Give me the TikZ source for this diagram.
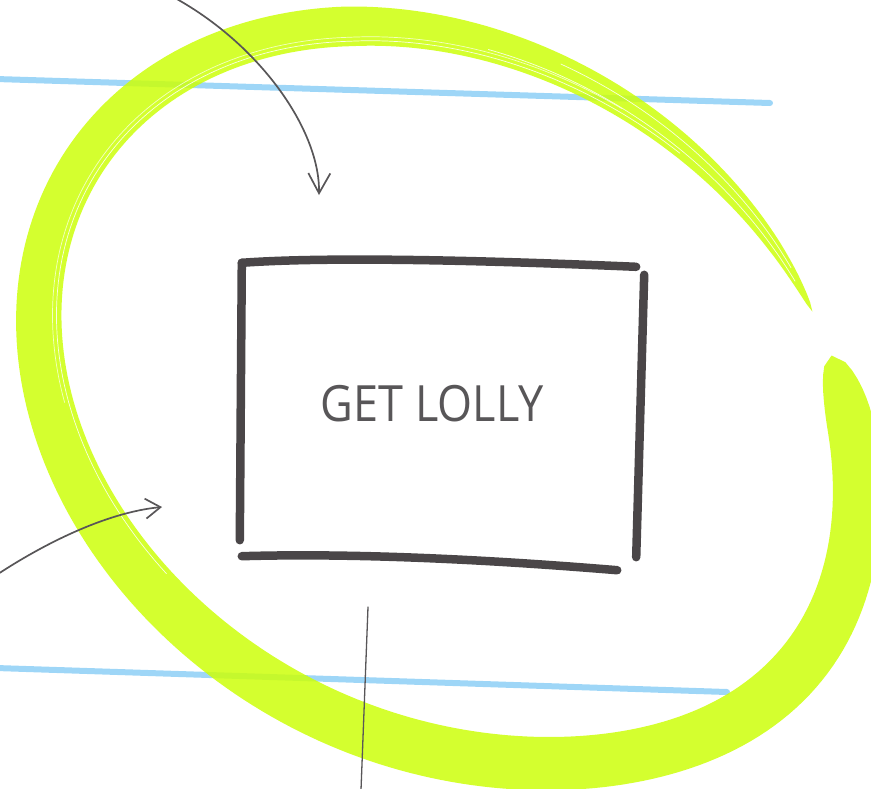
\documentclass[tikz,border=0pt]{standalone}
\usepackage{fontspec}
\setsansfont{Open Sans}
\usetikzlibrary{arrows.meta,calc,positioning}
\definecolor{lime}{RGB}{205,255,10}
\definecolor{sky}{RGB}{158,214,247}
\definecolor{ink}{RGB}{74,70,72}
\definecolor{pencil}{RGB}{88,86,88}
\tikzset{edge/.style={ink, line width=8.5pt, line cap=round},
  guide/.style={sky, line width=6pt, line cap=round},
  pen/.style={pencil, line width=1.7pt, line cap=round},
  barb/.style={pen, -{Straight Barb[length=20pt, width=22pt]}},
  streak/.style={white, line width=0.7pt, opacity=0.85},
  task/.style={inner sep=0pt, minimum width=396pt, minimum height=292pt,
    font=\sffamily\fontsize{50}{50}\selectfont, text=pencil},
  declare function={
    ringw(\t)=(47+7*sin(\t+38))*((\t<328) ? sqrt(max(0,1-((328-\t)/12)^2)) : ((\t>590) ? (max(0,(669-\t)/79))^0.6 : 1));
    bulge(\t)=22*exp(-((\t-368)/32)^2);
    ringx(\t,\d)=444+(428+\d+bulge(\t))*cos(\t)*0.848-(340+\d+bulge(\t))*sin(\t)*0.530;
    ringy(\t,\d)=393+(428+\d+bulge(\t))*cos(\t)*0.530+(340+\d+bulge(\t))*sin(\t)*0.848;}}

\begin{document}
\begin{tikzpicture}[x=1pt, y=-1pt]
  \useasboundingbox (0,0) rectangle (871,788);
  \clip (0,0) rectangle (871,788);
  % guide lines
  \coordinate (g1a) at (-4,79);
  \coordinate (g1b) at (770,103);
  \coordinate (g2a) at (-4,668);
  \coordinate (g2b) at (727,692);
  \draw[guide] (g1a) -- (g1b);
  \draw[guide] (g2a) -- (g2b);
  % highlighter ring
  \fill[lime, opacity=0.85] plot[domain=316:669, samples=260, variable=\t] ({ringx(\t,ringw(\t)/2)}, {ringy(\t,ringw(\t)/2)})
    -- plot[domain=669:316, samples=260, variable=\t] ({ringx(\t,-ringw(\t)/2)}, {ringy(\t,-ringw(\t)/2)}) -- cycle;
  \draw[streak] plot[domain=470:640, samples=120, variable=\t] ({ringx(\t,-ringw(\t)/2+5)}, {ringy(\t,-ringw(\t)/2+5)});
  \draw[streak, opacity=0.7] plot[domain=500:630, samples=120, variable=\t] ({ringx(\t,-ringw(\t)/2+9)}, {ringy(\t,-ringw(\t)/2+9)});
  \draw[streak] plot[domain=610:664, samples=60, variable=\t] ({ringx(\t,-ringw(\t)*0.15)}, {ringy(\t,-ringw(\t)*0.15)});
  \draw[streak] plot[domain=620:662, samples=60, variable=\t] ({ringx(\t,ringw(\t)*0.2)}, {ringy(\t,ringw(\t)*0.2)});
  % the box
  \node[task] (get) at (432,404) {\scalebox{0.9}[1]{GET LOLLY}};
  \draw[edge] ($(get.north west)+(8,5)$) .. controls ($(get.north west)+(90,-1)$) and ($(get.north)+(40,2)$) .. ($(get.north east)+(6,9)$);
  \draw[edge] ($(get.north east)+(14,17)$) -- ($(get.south east)+(6,7)$);
  \draw[edge] ($(get.south west)+(8,6)$) .. controls ($(get.south west)+(110,3)$) and ($(get.south)+(40,8)$) .. ($(get.south east)+(-13,20)$);
  \draw[edge] ($(get.north west)+(8,5)$) -- ($(get.south west)+(6,-10)$);
  % incoming arrows and line out
  \coordinate (fromtop) at (175,-2);
  \coordinate (intop) at (319,195);
  \coordinate (fromleft) at (-2,574);
  \coordinate (inleft) at (162,507);
  \coordinate (outa) at (368,607);
  \coordinate (outb) at (361,790);
  \draw[barb] (fromtop) .. controls (260,45) and (320,130) .. (intop);
  \draw[barb, -{Straight Barb[length=15pt, width=20pt]}] (fromleft) .. controls (50,540) and (110,512) .. (inleft);
  \draw[pen, line width=1.3pt] (outa) -- (outb);
\end{tikzpicture}
\end{document}
